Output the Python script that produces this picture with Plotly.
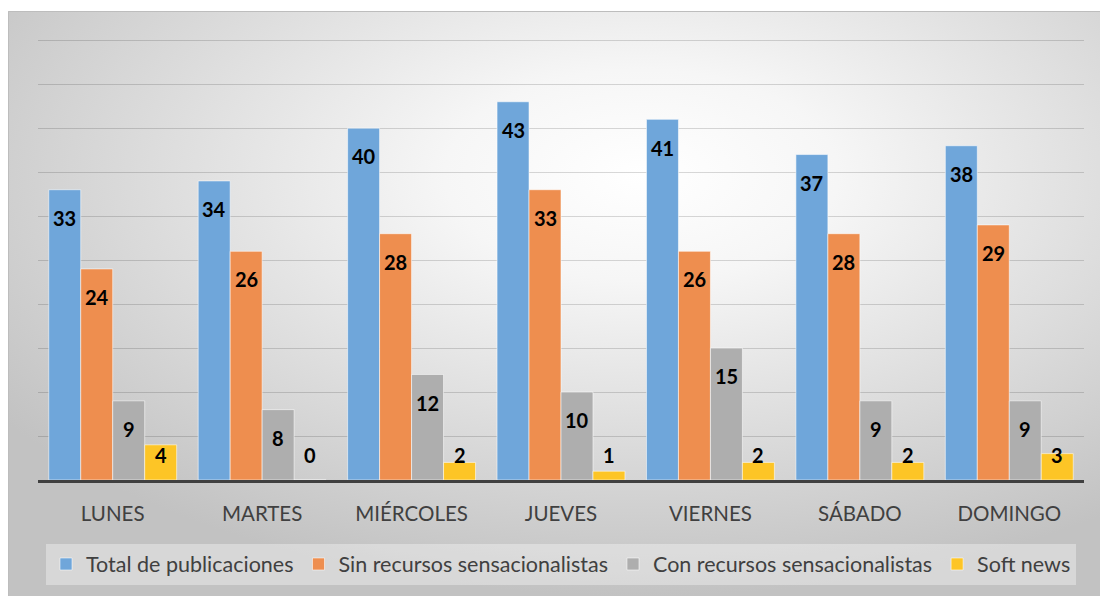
import base64
import plotly.graph_objects as go

# Weekly publication counts by type
days = ["LUNES", "MARTES", "MIÉRCOLES", "JUEVES", "VIERNES", "SÁBADO", "DOMINGO"]
total_publicaciones = [33, 34, 40, 43, 41, 37, 38]
sin_recursos = [24, 26, 28, 33, 26, 28, 29]
con_recursos = [9, 8, 12, 10, 15, 9, 9]
soft_news = [4, 0, 2, 1, 2, 2, 3]

series_names = [
    "Total de publicaciones",
    "Sin recursos sensacionalistas",
    "Con recursos sensacionalistas",
    "Soft news",
]
series_values = [total_publicaciones, sin_recursos, con_recursos, soft_news]
series_colors = ["#6FA6DA", "#EE8E4F", "#AEAEAE", "#FDC526"]

FONT = "Lato"
W, H = 1100, 596
M_L, M_R, M_T, M_B = 38, 16, 38, 116
PLOT_W = W - M_L - M_R
PLOT_H = H - M_T - M_B
Y_MAX = 50.25

# Soft radial-gradient panel behind the chart
svg = f"""<svg xmlns='http://www.w3.org/2000/svg' width='1092' height='585' viewBox='0 0 1092 585' preserveAspectRatio='none'>
<defs><radialGradient id='g' cx='0.58' cy='0.28' r='0.72' gradientUnits='objectBoundingBox'>
<stop offset='0' stop-color='#FFFFFF'/><stop offset='0.25' stop-color='#F6F6F6'/>
<stop offset='1' stop-color='#C2C2C2'/></radialGradient></defs>
<rect x='0' y='0' width='1092' height='585' fill='url(#g)'/>
<path d='M0.5,585 V0.5 H1092' fill='none' stroke='#BDBDBD' stroke-width='1'/>
</svg>"""
bg_src = "data:image/svg+xml;base64," + base64.b64encode(svg.encode()).decode()

bx0, by0 = 8, 11
img_x = (bx0 - M_L) / PLOT_W
img_y = (H - M_B - by0) / PLOT_H
img_sx = (W - bx0) / PLOT_W
img_sy = (H - by0) / PLOT_H

fig = go.Figure()

bar_w = 0.214
offsets = [-2 * bar_w, -bar_w, 0, bar_w]
x_idx = list(range(len(days)))

annotations = []
for name, vals, color, off in zip(series_names, series_values, series_colors, offsets):
    fig.add_trace(go.Bar(
        name=name,
        x=x_idx,
        y=vals,
        width=bar_w,
        offset=off,
        marker=dict(color=color, line=dict(color="rgba(255,255,255,0.55)", width=1)),
        hoverinfo="y+name",
    ))
    # value labels sit just inside the top of each bar, lifted above short bars
    for i, v in zip(x_idx, vals):
        annotations.append(dict(
            x=i + off + bar_w / 2,
            y=max(v - 3.2, 2.8),
            xref="x", yref="y",
            text=f"<b>{v}</b>",
            showarrow=False,
            font=dict(family=FONT, size=20, color="#000000"),
            xanchor="center", yanchor="middle",
        ))

fig.update_layout(
    width=W, height=H,
    margin=dict(l=M_L, r=M_R, t=M_T, b=M_B),
    paper_bgcolor="#FFFFFF",
    plot_bgcolor="rgba(0,0,0,0)",
    barmode="overlay",
    showlegend=True,
    font=dict(family=FONT, color="#404040"),
    legend=dict(
        orientation="h",
        x=0.5, xanchor="center",
        y=(H - M_B - 564) / PLOT_H, yanchor="middle",
        bgcolor="rgba(255,255,255,0.35)",
        font=dict(family=FONT, size=21.5, color="#404040"),
        itemwidth=30,
        traceorder="normal",
    ),
    xaxis=dict(
        range=[-0.5, len(days) - 0.5],
        tickmode="array",
        tickvals=x_idx,
        ticktext=days,
        tickfont=dict(family=FONT, size=20.5, color="#404040"),
        showgrid=False,
        zeroline=False,
        showline=True,
        linecolor="#404040",
        linewidth=3,
        ticks="",
        ticklabelstandoff=13,
    ),
    yaxis=dict(
        range=[0, Y_MAX],
        tickmode="array",
        tickvals=list(range(5, 51, 5)),
        showticklabels=False,
        showgrid=True,
        gridcolor="rgba(0,0,0,0.15)",
        gridwidth=1,
        zeroline=False,
        ticks="",
    ),
    annotations=annotations,
    images=[dict(
        source=bg_src,
        xref="paper", yref="paper",
        x=img_x, y=img_y,
        sizex=img_sx, sizey=img_sy,
        xanchor="left", yanchor="top",
        sizing="stretch",
        layer="below",
    )],
)

fig.write_html("out.html")
